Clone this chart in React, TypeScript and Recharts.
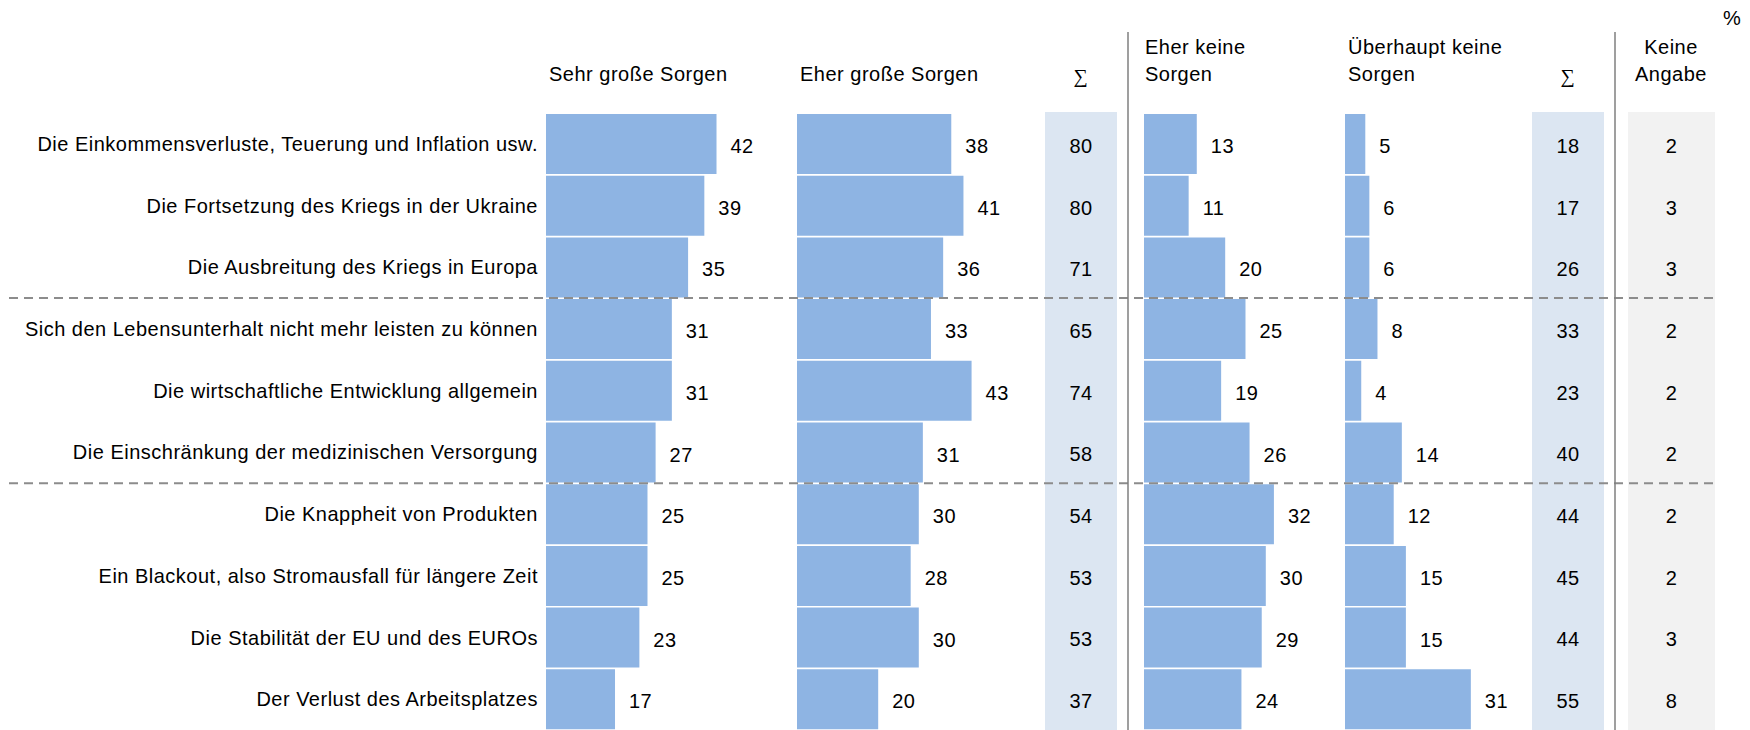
import { BarChart, Bar, XAxis, YAxis, LabelList, ComposedChart, ReferenceLine } from 'recharts'

// Sorgen-Items, Werte in %
const categories = [
  'Die Einkommensverluste, Teuerung und Inflation usw.',
  'Die Fortsetzung des Kriegs in der Ukraine',
  'Die Ausbreitung des Kriegs in Europa',
  'Sich den Lebensunterhalt nicht mehr leisten zu können',
  'Die wirtschaftliche Entwicklung allgemein',
  'Die Einschränkung der medizinischen Versorgung',
  'Die Knappheit von Produkten',
  'Ein Blackout, also Stromausfall für längere Zeit',
  'Die Stabilität der EU und des EUROs',
  'Der Verlust des Arbeitsplatzes',
]
const sehrGross = [42, 39, 35, 31, 31, 27, 25, 25, 23, 17]
const eherGross = [38, 41, 36, 33, 43, 31, 30, 28, 30, 20]
const sumGross = [80, 80, 71, 65, 74, 58, 54, 53, 53, 37]
const eherKeine = [13, 11, 20, 25, 19, 26, 32, 30, 29, 24]
const ueberhauptKeine = [5, 6, 6, 8, 4, 14, 12, 15, 15, 31]
const sumKeine = [18, 17, 26, 33, 23, 40, 44, 45, 44, 55]
const keineAngabe = [2, 3, 3, 2, 2, 2, 2, 2, 3, 8]
// neue Gruppe beginnt vor diesen Zeilen
const groupBreaks = [3, 6]

const rows = categories.map((label, i) => ({
  label,
  sehrGross: sehrGross[i],
  eherGross: eherGross[i],
  sumGross: sumGross[i],
  eherKeine: eherKeine[i],
  ueberhauptKeine: ueberhauptKeine[i],
  sumKeine: sumKeine[i],
  keineAngabe: keineAngabe[i],
}))

const W = 1750
const H = 730
const TOP = 113
const BOX_TOP = 112
const UNIT = 4.06
const FS = 20
const FONT = '"Liberation Sans", Arial, sans-serif'
const BAR = '#8EB4E3'
const SUM_BG = '#DCE6F2'
const NA_BG = '#F2F2F2'

function BarPanel({ left, dataKey, span, axisWidth = 0 }: { left: number; dataKey: string; span: number; axisWidth?: number }) {
  return (
    <div style={{ position: 'absolute', left: left - axisWidth, top: 0 }}>
      <BarChart
        width={axisWidth + span * UNIT}
        height={H}
        data={rows}
        layout="vertical"
        margin={{ top: TOP, right: 0, bottom: 0, left: 0 }}
        barCategoryGap={1}
      >
        <XAxis type="number" domain={[0, span]} hide />
        <YAxis
          type="category"
          dataKey="label"
          width={axisWidth}
          hide={!axisWidth}
          axisLine={false}
          tickLine={false}
          interval={0}
          tick={{ fill: '#000', fontSize: FS }}
        />
        <Bar dataKey={dataKey} fill={BAR} isAnimationActive={false}>
          <LabelList dataKey={dataKey} position="right" offset={14} fill="#000" fontSize={FS} dy={2} />
        </Bar>
      </BarChart>
    </div>
  )
}

function ValueColumn({ left, width, dataKey, bg }: { left: number; width: number; dataKey: string; bg: string }) {
  const h = H - BOX_TOP
  return (
    <div style={{ position: 'absolute', left, top: BOX_TOP, width, height: h, background: bg }}>
      <BarChart
        width={width + 2}
        height={h}
        data={rows}
        layout="vertical"
        margin={{ top: TOP - BOX_TOP, right: 0, bottom: 0, left: 0 }}
      >
        <XAxis type="number" hide />
        <YAxis
          type="category"
          dataKey={dataKey}
          width={width}
          axisLine={false}
          tickLine={false}
          tickSize={0}
          tickMargin={0}
          interval={0}
          tick={(p: any) => (
            <text key={p.index} x={width / 2} y={p.y} dy={9} textAnchor="middle" fontSize={FS} fill="#000">
              {p.payload.value}
            </text>
          )}
        />
      </BarChart>
    </div>
  )
}

export default function App() {
  return (
    <div
      style={{
        position: 'absolute',
        left: 0,
        top: 0,
        width: W,
        height: H,
        overflow: 'hidden',
        background: '#fff',
        fontFamily: FONT,
        letterSpacing: 0.5,
      }}
    >
      <ValueColumn left={1045} width={72} dataKey="sumGross" bg={SUM_BG} />
      <ValueColumn left={1532} width={72} dataKey="sumKeine" bg={SUM_BG} />
      <ValueColumn left={1628} width={87} dataKey="keineAngabe" bg={NA_BG} />

      <BarPanel left={546} dataKey="sehrGross" span={60} axisWidth={546} />
      <BarPanel left={797} dataKey="eherGross" span={60} />
      <BarPanel left={1144} dataKey="eherKeine" span={48} />
      <BarPanel left={1345} dataKey="ueberhauptKeine" span={45} />

      {/* gestrichelte Gruppentrenner */}
      <div style={{ position: 'absolute', left: 0, top: 0, pointerEvents: 'none' }}>
        <ComposedChart
          width={W}
          height={H}
          data={rows}
          layout="vertical"
          margin={{ top: TOP, right: W - 1715, bottom: 0, left: 9 }}
        >
          <XAxis type="number" domain={[0, 1]} allowDataOverflow hide />
          <YAxis type="category" dataKey="label" hide />
          <Bar dataKey="keineAngabe" fill="none" isAnimationActive={false} />
          {groupBreaks.map((b) => (
            <ReferenceLine
              key={b}
              y={categories[b]}
              position="start"
              stroke="#8c8c8c"
              strokeWidth={2}
              strokeDasharray="9 6"
            />
          ))}
        </ComposedChart>
      </div>

      <svg width={W} height={H} style={{ position: 'absolute', left: 0, top: 0, pointerEvents: 'none' }}>
        <line x1={1128} y1={32} x2={1128} y2={H} stroke="#7f7f7f" strokeWidth={1.5} />
        <line x1={1615} y1={32} x2={1615} y2={H} stroke="#7f7f7f" strokeWidth={1.5} />
        <g fontSize={FS} fill="#000">
          <text x={549} y={81}>Sehr große Sorgen</text>
          <text x={800} y={81}>Eher große Sorgen</text>
          <text x={1145} y={54}>Eher keine</text>
          <text x={1145} y={81}>Sorgen</text>
          <text x={1348} y={54}>Überhaupt keine</text>
          <text x={1348} y={81}>Sorgen</text>
          <text x={1671} y={54} textAnchor="middle">Keine</text>
          <text x={1671} y={81} textAnchor="middle">Angabe</text>
          <text x={1723} y={25}>%</text>
          <text x={1081} y={83} textAnchor="middle" fontFamily='"Liberation Serif", serif'>∑</text>
          <text x={1568} y={83} textAnchor="middle" fontFamily='"Liberation Serif", serif'>∑</text>
        </g>
      </svg>
    </div>
  )
}
